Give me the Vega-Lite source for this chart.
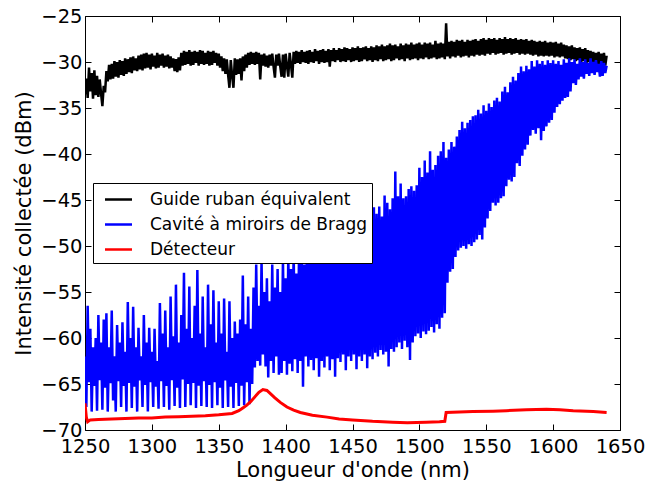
{
"$schema": "https://vega.github.io/schema/vega-lite/v6.json",
"width": 535, "height": 414,
"autosize": {"type": "none"},
"padding": {"left": 85, "top": 16, "right": 29, "bottom": 57},
"background": "white",
"datasets": {
"guide": [
{"x":1250,"y":-33.5},{"x":1251,"y":-31.8},{"x":1252,"y":-33.9},{"x":1253,"y":-30.6},{"x":1254,"y":-33.2},{"x":1255,"y":-31.2},{"x":1256,"y":-34.0},{"x":1257,"y":-30.9},{"x":1258,"y":-33.6},{"x":1259,"y":-31.5},
{"x":1260,"y":-33.8},{"x":1261,"y":-31.9},{"x":1262,"y":-33.4},{"x":1263,"y":-34.8},{"x":1264,"y":-32.6},{"x":1265,"y":-33.3},{"x":1266,"y":-31.0},{"x":1267,"y":-32.1},{"x":1268,"y":-30.3},{"x":1269,"y":-31.9},
{"x":1270,"y":-30.2},{"x":1271,"y":-31.8},{"x":1272,"y":-29.9},{"x":1273,"y":-31.6},{"x":1274,"y":-30.0},{"x":1275,"y":-31.7},{"x":1276,"y":-29.8},{"x":1277,"y":-31.4},{"x":1278,"y":-29.9},{"x":1279,"y":-31.5},
{"x":1280,"y":-29.6},{"x":1281,"y":-31.3},{"x":1282,"y":-29.7},{"x":1283,"y":-31.1},{"x":1284,"y":-29.5},{"x":1285,"y":-31.2},{"x":1286,"y":-29.4},{"x":1287,"y":-30.9},{"x":1288,"y":-29.6},{"x":1289,"y":-31.0},
{"x":1290,"y":-29.3},{"x":1291,"y":-30.8},{"x":1292,"y":-29.2},{"x":1293,"y":-30.9},{"x":1294,"y":-29.1},{"x":1295,"y":-30.7},{"x":1296,"y":-29.0},{"x":1297,"y":-30.6},{"x":1298,"y":-29.2},{"x":1299,"y":-30.8},
{"x":1300,"y":-29.1},{"x":1301,"y":-30.5},{"x":1302,"y":-29.3},{"x":1303,"y":-30.7},{"x":1304,"y":-29.0},{"x":1305,"y":-30.6},{"x":1306,"y":-29.2},{"x":1307,"y":-30.4},{"x":1308,"y":-29.1},{"x":1309,"y":-30.6},
{"x":1310,"y":-29.3},{"x":1311,"y":-30.5},{"x":1312,"y":-29.2},{"x":1313,"y":-30.7},{"x":1314,"y":-29.4},{"x":1315,"y":-30.6},{"x":1316,"y":-29.6},{"x":1317,"y":-31.0},{"x":1318,"y":-29.7},{"x":1319,"y":-31.1},
{"x":1320,"y":-29.5},{"x":1321,"y":-30.9},{"x":1322,"y":-29.0},{"x":1323,"y":-30.4},{"x":1324,"y":-28.8},{"x":1325,"y":-30.3},{"x":1326,"y":-28.9},{"x":1327,"y":-30.2},{"x":1328,"y":-28.7},{"x":1329,"y":-30.4},
{"x":1330,"y":-28.9},{"x":1331,"y":-30.3},{"x":1332,"y":-28.8},{"x":1333,"y":-30.1},{"x":1334,"y":-28.9},{"x":1335,"y":-30.4},{"x":1336,"y":-28.7},{"x":1337,"y":-30.2},{"x":1338,"y":-28.8},{"x":1339,"y":-30.3},
{"x":1340,"y":-29.0},{"x":1341,"y":-30.2},{"x":1342,"y":-28.8},{"x":1343,"y":-30.4},{"x":1344,"y":-28.9},{"x":1345,"y":-30.3},{"x":1346,"y":-28.8},{"x":1347,"y":-30.1},{"x":1348,"y":-29.0},{"x":1349,"y":-30.4},
{"x":1350,"y":-29.1},{"x":1351,"y":-30.6},{"x":1352,"y":-29.4},{"x":1353,"y":-31.0},{"x":1354,"y":-29.6},{"x":1355,"y":-31.3},{"x":1356,"y":-29.7},{"x":1357,"y":-31.4},{"x":1358,"y":-32.8},{"x":1359,"y":-29.8},
{"x":1360,"y":-31.5},{"x":1361,"y":-32.8},{"x":1362,"y":-29.6},{"x":1363,"y":-31.4},{"x":1364,"y":-29.7},{"x":1365,"y":-31.3},{"x":1366,"y":-29.6},{"x":1367,"y":-32.0},{"x":1368,"y":-29.4},{"x":1369,"y":-31.0},
{"x":1370,"y":-29.2},{"x":1371,"y":-30.6},{"x":1372,"y":-29.0},{"x":1373,"y":-30.3},{"x":1374,"y":-28.9},{"x":1375,"y":-30.2},{"x":1376,"y":-29.0},{"x":1377,"y":-30.3},{"x":1378,"y":-28.9},{"x":1379,"y":-30.2},
{"x":1380,"y":-29.0},{"x":1381,"y":-31.9},{"x":1382,"y":-29.2},{"x":1383,"y":-30.4},{"x":1384,"y":-29.1},{"x":1385,"y":-30.5},{"x":1386,"y":-29.3},{"x":1387,"y":-30.6},{"x":1388,"y":-29.2},{"x":1389,"y":-30.4},
{"x":1390,"y":-29.1},{"x":1391,"y":-30.5},{"x":1392,"y":-31.7},{"x":1393,"y":-29.2},{"x":1394,"y":-30.4},{"x":1395,"y":-29.1},{"x":1396,"y":-30.5},{"x":1397,"y":-31.6},{"x":1398,"y":-29.2},{"x":1399,"y":-31.7},
{"x":1400,"y":-29.1},{"x":1401,"y":-30.4},{"x":1402,"y":-31.6},{"x":1403,"y":-29.0},{"x":1404,"y":-30.3},{"x":1405,"y":-31.7},{"x":1406,"y":-28.9},{"x":1407,"y":-30.2},{"x":1408,"y":-28.8},{"x":1409,"y":-30.1},
{"x":1410,"y":-28.9},{"x":1411,"y":-30.2},{"x":1412,"y":-28.7},{"x":1413,"y":-30.0},{"x":1414,"y":-28.9},{"x":1415,"y":-30.1},{"x":1416,"y":-28.8},{"x":1417,"y":-30.2},{"x":1418,"y":-28.7},{"x":1419,"y":-30.0},
{"x":1420,"y":-28.9},{"x":1421,"y":-30.1},{"x":1422,"y":-28.6},{"x":1423,"y":-29.9},{"x":1424,"y":-28.8},{"x":1425,"y":-30.2},{"x":1426,"y":-28.7},{"x":1427,"y":-30.0},{"x":1428,"y":-28.6},{"x":1429,"y":-30.1},
{"x":1430,"y":-28.8},{"x":1431,"y":-30.0},{"x":1432,"y":-28.6},{"x":1433,"y":-30.5},{"x":1434,"y":-28.7},{"x":1435,"y":-29.9},{"x":1436,"y":-28.5},{"x":1437,"y":-30.0},{"x":1438,"y":-28.7},{"x":1439,"y":-29.8},
{"x":1440,"y":-28.5},{"x":1441,"y":-30.0},{"x":1442,"y":-28.6},{"x":1443,"y":-29.9},{"x":1444,"y":-28.4},{"x":1445,"y":-30.0},{"x":1446,"y":-28.5},{"x":1447,"y":-29.8},{"x":1448,"y":-28.6},{"x":1449,"y":-30.0},
{"x":1450,"y":-28.4},{"x":1451,"y":-29.9},{"x":1452,"y":-28.5},{"x":1453,"y":-29.8},{"x":1454,"y":-28.3},{"x":1455,"y":-30.0},{"x":1456,"y":-28.5},{"x":1457,"y":-29.9},{"x":1458,"y":-28.4},{"x":1459,"y":-29.7},
{"x":1460,"y":-28.3},{"x":1461,"y":-29.9},{"x":1462,"y":-28.5},{"x":1463,"y":-29.8},{"x":1464,"y":-28.3},{"x":1465,"y":-30.0},{"x":1466,"y":-28.4},{"x":1467,"y":-29.8},{"x":1468,"y":-28.2},{"x":1469,"y":-29.9},
{"x":1470,"y":-28.3},{"x":1471,"y":-29.7},{"x":1472,"y":-28.1},{"x":1473,"y":-29.9},{"x":1474,"y":-28.3},{"x":1475,"y":-29.8},{"x":1476,"y":-28.2},{"x":1477,"y":-29.7},{"x":1478,"y":-28.0},{"x":1479,"y":-29.9},
{"x":1480,"y":-28.2},{"x":1481,"y":-29.8},{"x":1482,"y":-28.1},{"x":1483,"y":-29.6},{"x":1484,"y":-28.3},{"x":1485,"y":-29.8},{"x":1486,"y":-28.0},{"x":1487,"y":-29.7},{"x":1488,"y":-28.2},{"x":1489,"y":-29.9},
{"x":1490,"y":-28.0},{"x":1491,"y":-29.6},{"x":1492,"y":-28.1},{"x":1493,"y":-29.8},{"x":1494,"y":-27.9},{"x":1495,"y":-29.7},{"x":1496,"y":-28.1},{"x":1497,"y":-29.6},{"x":1498,"y":-28.0},{"x":1499,"y":-29.8},
{"x":1500,"y":-27.9},{"x":1501,"y":-29.6},{"x":1502,"y":-28.1},{"x":1503,"y":-29.7},{"x":1504,"y":-27.9},{"x":1505,"y":-29.5},{"x":1506,"y":-28.0},{"x":1507,"y":-29.7},{"x":1508,"y":-27.9},{"x":1509,"y":-29.6},
{"x":1510,"y":-28.1},{"x":1511,"y":-29.5},{"x":1512,"y":-27.7},{"x":1513,"y":-29.7},{"x":1514,"y":-28.0},{"x":1515,"y":-29.6},{"x":1516,"y":-27.9},{"x":1517,"y":-29.5},{"x":1518,"y":-28.0},{"x":1519,"y":-29.7},
{"x":1520,"y":-25.8},{"x":1521,"y":-29.4},{"x":1522,"y":-27.8},{"x":1523,"y":-29.6},{"x":1524,"y":-27.7},{"x":1525,"y":-29.4},{"x":1526,"y":-27.8},{"x":1527,"y":-29.5},{"x":1528,"y":-27.6},{"x":1529,"y":-29.3},
{"x":1530,"y":-27.7},{"x":1531,"y":-29.5},{"x":1532,"y":-27.6},{"x":1533,"y":-29.4},{"x":1534,"y":-27.8},{"x":1535,"y":-29.3},{"x":1536,"y":-27.6},{"x":1537,"y":-29.5},{"x":1538,"y":-27.7},{"x":1539,"y":-29.3},
{"x":1540,"y":-27.6},{"x":1541,"y":-29.4},{"x":1542,"y":-27.5},{"x":1543,"y":-29.2},{"x":1544,"y":-27.7},{"x":1545,"y":-29.3},{"x":1546,"y":-27.5},{"x":1547,"y":-29.2},{"x":1548,"y":-27.4},{"x":1549,"y":-29.3},
{"x":1550,"y":-27.6},{"x":1551,"y":-29.1},{"x":1552,"y":-27.4},{"x":1553,"y":-29.2},{"x":1554,"y":-27.5},{"x":1555,"y":-29.0},{"x":1556,"y":-27.4},{"x":1557,"y":-29.2},{"x":1558,"y":-27.6},{"x":1559,"y":-29.1},
{"x":1560,"y":-27.4},{"x":1561,"y":-29.0},{"x":1562,"y":-27.5},{"x":1563,"y":-29.2},{"x":1564,"y":-27.3},{"x":1565,"y":-29.1},{"x":1566,"y":-27.5},{"x":1567,"y":-29.0},{"x":1568,"y":-27.4},{"x":1569,"y":-29.2},
{"x":1570,"y":-27.5},{"x":1571,"y":-29.1},{"x":1572,"y":-27.4},{"x":1573,"y":-29.0},{"x":1574,"y":-27.6},{"x":1575,"y":-29.2},{"x":1576,"y":-27.5},{"x":1577,"y":-29.1},{"x":1578,"y":-27.6},{"x":1579,"y":-29.2},
{"x":1580,"y":-27.5},{"x":1581,"y":-29.1},{"x":1582,"y":-27.7},{"x":1583,"y":-29.2},{"x":1584,"y":-27.6},{"x":1585,"y":-29.3},{"x":1586,"y":-27.7},{"x":1587,"y":-29.2},{"x":1588,"y":-27.8},{"x":1589,"y":-29.4},
{"x":1590,"y":-27.7},{"x":1591,"y":-29.3},{"x":1592,"y":-27.8},{"x":1593,"y":-29.4},{"x":1594,"y":-27.7},{"x":1595,"y":-29.3},{"x":1596,"y":-27.9},{"x":1597,"y":-29.4},{"x":1598,"y":-27.8},{"x":1599,"y":-29.3},
{"x":1600,"y":-27.9},{"x":1601,"y":-29.5},{"x":1602,"y":-27.8},{"x":1603,"y":-29.4},{"x":1604,"y":-28.0},{"x":1605,"y":-29.5},{"x":1606,"y":-27.9},{"x":1607,"y":-29.4},{"x":1608,"y":-28.1},{"x":1609,"y":-29.6},
{"x":1610,"y":-28.2},{"x":1611,"y":-29.7},{"x":1612,"y":-28.3},{"x":1613,"y":-29.8},{"x":1614,"y":-28.2},{"x":1615,"y":-29.7},{"x":1616,"y":-28.4},{"x":1617,"y":-29.9},{"x":1618,"y":-28.5},{"x":1619,"y":-29.8},
{"x":1620,"y":-28.4},{"x":1621,"y":-30.0},{"x":1622,"y":-28.6},{"x":1623,"y":-29.9},{"x":1624,"y":-28.5},{"x":1625,"y":-30.1},{"x":1626,"y":-28.7},{"x":1627,"y":-30.0},{"x":1628,"y":-28.8},{"x":1629,"y":-30.2},
{"x":1630,"y":-28.9},{"x":1631,"y":-30.1},{"x":1632,"y":-29.0},{"x":1633,"y":-30.3},{"x":1634,"y":-28.9},{"x":1635,"y":-30.2},{"x":1636,"y":-29.1},{"x":1637,"y":-30.3},{"x":1638,"y":-29.0},{"x":1639,"y":-30.4},
{"x":1640,"y":-29.3}
],
"cavite": [
{"x":1250,"y":-62},{"x":1251,"y":-67.5},{"x":1252,"y":-56.5},{"x":1253,"y":-64.8},{"x":1254,"y":-59},{"x":1255,"y":-68},{"x":1256,"y":-61},{"x":1257,"y":-65.2},{"x":1258,"y":-60},{"x":1259,"y":-67.9},
{"x":1260,"y":-57.5},{"x":1261,"y":-64.6},{"x":1262,"y":-60.5},{"x":1263,"y":-67.8},{"x":1264,"y":-58},{"x":1265,"y":-65.4},{"x":1266,"y":-57.3},{"x":1267,"y":-68},{"x":1268,"y":-61},{"x":1269,"y":-64.9},
{"x":1270,"y":-57},{"x":1271,"y":-66.8},{"x":1272,"y":-62},{"x":1273,"y":-68},{"x":1274,"y":-58.6},{"x":1275,"y":-64.7},{"x":1276,"y":-60.5},{"x":1277,"y":-67.5},{"x":1278,"y":-58.3},{"x":1279,"y":-65.2},
{"x":1280,"y":-61.5},{"x":1281,"y":-68},{"x":1282,"y":-56.1},{"x":1283,"y":-64.9},{"x":1284,"y":-60},{"x":1285,"y":-67.6},{"x":1286,"y":-56.6},{"x":1287,"y":-65.3},{"x":1288,"y":-61},{"x":1289,"y":-68},
{"x":1290,"y":-58.9},{"x":1291,"y":-64.6},{"x":1292,"y":-62},{"x":1293,"y":-67.5},{"x":1294,"y":-57.5},{"x":1295,"y":-65.1},{"x":1296,"y":-60.5},{"x":1297,"y":-68},{"x":1298,"y":-58.9},{"x":1299,"y":-64.8},
{"x":1300,"y":-61.5},{"x":1301,"y":-67.5},{"x":1302,"y":-59},{"x":1303,"y":-65.3},{"x":1304,"y":-62.5},{"x":1305,"y":-67.7},{"x":1306,"y":-56.2},{"x":1307,"y":-64.7},{"x":1308,"y":-59.5},{"x":1309,"y":-67.5},
{"x":1310,"y":-57},{"x":1311,"y":-65.2},{"x":1312,"y":-61},{"x":1313,"y":-67.8},{"x":1314,"y":-55.5},{"x":1315,"y":-64.6},{"x":1316,"y":-59.8},{"x":1317,"y":-67.4},{"x":1318,"y":-54.2},{"x":1319,"y":-65.4},
{"x":1320,"y":-60.5},{"x":1321,"y":-67.6},{"x":1322,"y":-57.5},{"x":1323,"y":-64.5},{"x":1324,"y":-52.9},{"x":1325,"y":-67.5},{"x":1326,"y":-59},{"x":1327,"y":-65},{"x":1328,"y":-54.4},{"x":1329,"y":-67.3},
{"x":1330,"y":-60},{"x":1331,"y":-64.9},{"x":1332,"y":-56.5},{"x":1333,"y":-67.6},{"x":1334,"y":-52.6},{"x":1335,"y":-65.2},{"x":1336,"y":-59.5},{"x":1337,"y":-67.4},{"x":1338,"y":-55.5},{"x":1339,"y":-64.7},
{"x":1340,"y":-61},{"x":1341,"y":-67.5},{"x":1342,"y":-54.2},{"x":1343,"y":-65.1},{"x":1344,"y":-58.5},{"x":1345,"y":-67.6},{"x":1346,"y":-54.8},{"x":1347,"y":-64.8},{"x":1348,"y":-60.5},{"x":1349,"y":-67.3},
{"x":1350,"y":-56},{"x":1351,"y":-65.4},{"x":1352,"y":-59.5},{"x":1353,"y":-67.6},{"x":1354,"y":-55.7},{"x":1355,"y":-64.6},{"x":1356,"y":-61.5},{"x":1357,"y":-67.5},{"x":1358,"y":-56},{"x":1359,"y":-65.3},
{"x":1360,"y":-60},{"x":1361,"y":-67.6},{"x":1362,"y":-58.2},{"x":1363,"y":-64.9},{"x":1364,"y":-59.5},{"x":1365,"y":-67.4},{"x":1366,"y":-58},{"x":1367,"y":-65.2},{"x":1368,"y":-53.2},{"x":1369,"y":-67.3},
{"x":1370,"y":-58.5},{"x":1371,"y":-64.8},{"x":1372,"y":-55.5},{"x":1373,"y":-67.2},{"x":1374,"y":-59},{"x":1375,"y":-65},{"x":1376,"y":-54.5},{"x":1377,"y":-63.2},{"x":1378,"y":-52},{"x":1379,"y":-62.5},
{"x":1380,"y":-56.5},{"x":1381,"y":-63},{"x":1382,"y":-51.6},{"x":1383,"y":-61.8},{"x":1384,"y":-55},{"x":1385,"y":-63.1},{"x":1386,"y":-53.5},{"x":1387,"y":-64.3},{"x":1388,"y":-56},{"x":1389,"y":-62.5},
{"x":1390,"y":-52},{"x":1391,"y":-63.8},{"x":1392,"y":-54.5},{"x":1393,"y":-62},{"x":1394,"y":-52.5},{"x":1395,"y":-64},{"x":1396,"y":-55},{"x":1397,"y":-63.8},{"x":1398,"y":-51.5},{"x":1399,"y":-62.5},
{"x":1400,"y":-53.5},{"x":1401,"y":-64},{"x":1402,"y":-51},{"x":1403,"y":-62.8},{"x":1404,"y":-52.5},{"x":1405,"y":-63.6},{"x":1406,"y":-50.5},{"x":1407,"y":-62.3},{"x":1408,"y":-53},{"x":1409,"y":-63.8},
{"x":1410,"y":-51},{"x":1411,"y":-62.5},{"x":1412,"y":-50.5},{"x":1413,"y":-65.3},{"x":1414,"y":-52},{"x":1415,"y":-62},{"x":1416,"y":-50},{"x":1417,"y":-63.1},{"x":1418,"y":-51.5},{"x":1419,"y":-62.4},
{"x":1420,"y":-49.8},{"x":1421,"y":-63.5},{"x":1422,"y":-51},{"x":1423,"y":-62.2},{"x":1424,"y":-49.5},{"x":1425,"y":-64.2},{"x":1426,"y":-50.8},{"x":1427,"y":-62.5},{"x":1428,"y":-49},{"x":1429,"y":-63.2},
{"x":1430,"y":-50.5},{"x":1431,"y":-62},{"x":1432,"y":-48.8},{"x":1433,"y":-63.5},{"x":1434,"y":-50},{"x":1435,"y":-62.3},{"x":1436,"y":-48.5},{"x":1437,"y":-64.2},{"x":1438,"y":-49.5},{"x":1439,"y":-62.2},
{"x":1440,"y":-48},{"x":1441,"y":-62.6},{"x":1442,"y":-49.6},{"x":1443,"y":-61.8},{"x":1444,"y":-47.5},{"x":1445,"y":-63.5},{"x":1446,"y":-48.8},{"x":1447,"y":-62},{"x":1448,"y":-47.2},{"x":1449,"y":-62.5},
{"x":1450,"y":-48.5},{"x":1451,"y":-61.8},{"x":1452,"y":-46.8},{"x":1453,"y":-63.4},{"x":1454,"y":-48},{"x":1455,"y":-62},{"x":1456,"y":-46.5},{"x":1457,"y":-62.5},{"x":1458,"y":-47.8},{"x":1459,"y":-61.8},
{"x":1460,"y":-46.2},{"x":1461,"y":-63.3},{"x":1462,"y":-47.5},{"x":1463,"y":-62},{"x":1464,"y":-46},{"x":1465,"y":-62.3},{"x":1466,"y":-45.8},{"x":1467,"y":-61.6},{"x":1468,"y":-46.5},{"x":1469,"y":-62},
{"x":1470,"y":-45.7},{"x":1471,"y":-61.3},{"x":1472,"y":-46.8},{"x":1473,"y":-61.8},{"x":1474,"y":-44.5},{"x":1475,"y":-61.5},{"x":1476,"y":-45.3},{"x":1477,"y":-63.1},{"x":1478,"y":-46},{"x":1479,"y":-61.2},
{"x":1480,"y":-44.8},{"x":1481,"y":-61.5},{"x":1482,"y":-41.9},{"x":1483,"y":-61},{"x":1484,"y":-44.6},{"x":1485,"y":-60.5},{"x":1486,"y":-43.2},{"x":1487,"y":-61.2},{"x":1488,"y":-44.8},{"x":1489,"y":-60.3},
{"x":1490,"y":-44.6},{"x":1491,"y":-61},{"x":1492,"y":-43.8},{"x":1493,"y":-62.4},{"x":1494,"y":-43.5},{"x":1495,"y":-60.5},{"x":1496,"y":-44},{"x":1497,"y":-59.8},{"x":1498,"y":-43.4},{"x":1499,"y":-59.5},
{"x":1500,"y":-41.5},{"x":1501,"y":-60},{"x":1502,"y":-42.5},{"x":1503,"y":-59.3},{"x":1504,"y":-40.7},{"x":1505,"y":-59.6},{"x":1506,"y":-42},{"x":1507,"y":-59.2},{"x":1508,"y":-39.7},{"x":1509,"y":-58.8},
{"x":1510,"y":-41.7},{"x":1511,"y":-59.4},{"x":1512,"y":-41.2},{"x":1513,"y":-58.5},{"x":1514,"y":-40.2},{"x":1515,"y":-59},{"x":1516,"y":-39.7},{"x":1517,"y":-57.8},{"x":1518,"y":-38.7},{"x":1519,"y":-57.3},
{"x":1520,"y":-40.4},{"x":1521,"y":-54},{"x":1522,"y":-39.5},{"x":1523,"y":-52.8},{"x":1524,"y":-38.7},{"x":1525,"y":-52.5},{"x":1526,"y":-39.2},{"x":1527,"y":-51.2},{"x":1528,"y":-38.1},{"x":1529,"y":-50.5},
{"x":1530,"y":-37.4},{"x":1531,"y":-50.2},{"x":1532,"y":-36.5},{"x":1533,"y":-50},{"x":1534,"y":-37.2},{"x":1535,"y":-50.3},{"x":1536,"y":-36.6},{"x":1537,"y":-49.8},{"x":1538,"y":-36.3},{"x":1539,"y":-50},
{"x":1540,"y":-35.9},{"x":1541,"y":-49.6},{"x":1542,"y":-35.8},{"x":1543,"y":-49.3},{"x":1544,"y":-35.2},{"x":1545,"y":-48.8},{"x":1546,"y":-35.6},{"x":1547,"y":-49.3},{"x":1548,"y":-34.7},{"x":1549,"y":-48},
{"x":1550,"y":-35.3},{"x":1551,"y":-47},{"x":1552,"y":-34.5},{"x":1553,"y":-46.2},{"x":1554,"y":-34.9},{"x":1555,"y":-45.3},{"x":1556,"y":-34.2},{"x":1557,"y":-45.6},{"x":1558,"y":-33.9},{"x":1559,"y":-45.3},
{"x":1560,"y":-34.3},{"x":1561,"y":-44.8},{"x":1562,"y":-33.2},{"x":1563,"y":-44.6},{"x":1564,"y":-32.7},{"x":1565,"y":-43.5},{"x":1566,"y":-33.3},{"x":1567,"y":-42.8},{"x":1568,"y":-32.2},{"x":1569,"y":-43},
{"x":1570,"y":-31.6},{"x":1571,"y":-42.5},{"x":1572,"y":-32},{"x":1573,"y":-41},{"x":1574,"y":-31.2},{"x":1575,"y":-41.3},{"x":1576,"y":-30.5},{"x":1577,"y":-40.2},{"x":1578,"y":-31},{"x":1579,"y":-39.5},
{"x":1580,"y":-30.4},{"x":1581,"y":-39},{"x":1582,"y":-30.8},{"x":1583,"y":-38},{"x":1584,"y":-29.9},{"x":1585,"y":-37.4},{"x":1586,"y":-30.5},{"x":1587,"y":-37.8},{"x":1588,"y":-29.8},{"x":1589,"y":-37.2},
{"x":1590,"y":-30.2},{"x":1591,"y":-38.5},{"x":1592,"y":-29.9},{"x":1593,"y":-37.5},{"x":1594,"y":-30.3},{"x":1595,"y":-37},{"x":1596,"y":-29.8},{"x":1597,"y":-36.6},{"x":1598,"y":-30.1},{"x":1599,"y":-36.3},
{"x":1600,"y":-29.8},{"x":1601,"y":-35.5},{"x":1602,"y":-30.2},{"x":1603,"y":-34.9},{"x":1604,"y":-29.9},{"x":1605,"y":-34.6},{"x":1606,"y":-30.3},{"x":1607,"y":-34.2},{"x":1608,"y":-29.7},{"x":1609,"y":-33.9},
{"x":1610,"y":-30.1},{"x":1611,"y":-33.8},{"x":1612,"y":-29.6},{"x":1613,"y":-33.2},{"x":1614,"y":-30},{"x":1615,"y":-32.3},{"x":1616,"y":-29.7},{"x":1617,"y":-32.5},{"x":1618,"y":-30.2},{"x":1619,"y":-31.9},
{"x":1620,"y":-29.6},{"x":1621,"y":-31.6},{"x":1622,"y":-30},{"x":1623,"y":-31.8},{"x":1624,"y":-29.7},{"x":1625,"y":-31.3},{"x":1626,"y":-30.1},{"x":1627,"y":-31.5},{"x":1628,"y":-29.6},{"x":1629,"y":-31.2},
{"x":1630,"y":-30},{"x":1631,"y":-31.4},{"x":1632,"y":-29.8},{"x":1633,"y":-31.1},{"x":1634,"y":-30.2},{"x":1635,"y":-31.6},{"x":1636,"y":-29.9},{"x":1637,"y":-31.5},{"x":1638,"y":-30.1},{"x":1639,"y":-31.2},
{"x":1640,"y":-30.4}
],
"detecteur": [
{"x":1250,"y":-67.1},{"x":1251,"y":-68.6},{"x":1252,"y":-69.1},{"x":1254,"y":-68.9},{"x":1260,"y":-68.85},{"x":1270,"y":-68.8},{"x":1280,"y":-68.75},{"x":1290,"y":-68.7},{"x":1300,"y":-68.7},{"x":1310,"y":-68.6},
{"x":1320,"y":-68.55},{"x":1330,"y":-68.5},{"x":1340,"y":-68.45},{"x":1350,"y":-68.35},{"x":1360,"y":-68.2},{"x":1365,"y":-67.9},{"x":1368,"y":-67.6},{"x":1371,"y":-67.3},{"x":1374,"y":-66.9},{"x":1377,"y":-66.4},
{"x":1380,"y":-65.9},{"x":1383,"y":-65.6},{"x":1386,"y":-65.7},{"x":1389,"y":-66.1},{"x":1392,"y":-66.5},{"x":1396,"y":-67.0},{"x":1401,"y":-67.5},{"x":1406,"y":-67.85},{"x":1411,"y":-68.1},{"x":1420,"y":-68.4},
{"x":1431,"y":-68.6},{"x":1440,"y":-68.8},{"x":1450,"y":-68.9},{"x":1465,"y":-69.05},{"x":1480,"y":-69.15},{"x":1491,"y":-69.2},{"x":1505,"y":-69.15},{"x":1515,"y":-69.1},{"x":1519,"y":-69.05},{"x":1520,"y":-68.1},
{"x":1530,"y":-68.05},{"x":1540,"y":-68.0},{"x":1555,"y":-67.95},{"x":1565,"y":-67.9},{"x":1580,"y":-67.8},{"x":1595,"y":-67.75},{"x":1605,"y":-67.8},{"x":1615,"y":-67.9},{"x":1630,"y":-68.0},{"x":1640,"y":-68.1}
]
},
"layer": [
{"data": {"name": "guide"},
 "mark": {"type": "line", "strokeWidth": 2.5, "clip": true},
 "encoding": {
  "x": {"field": "x", "type": "quantitative", "scale": {"domain": [1250, 1650], "nice": false, "zero": false},
        "axis": {"orient": "bottom", "values": [1250,1300,1350,1400,1450,1500,1550,1600,1650], "format": "d", "title": "Longueur d'onde (nm)", "tickSize": -6, "labelPadding": 13, "titlePadding": 4, "labelFlush": false, "labelOverlap": false}},
  "y": {"field": "y", "type": "quantitative", "scale": {"domain": [-70, -25], "nice": false, "zero": false},
        "axis": {"orient": "left", "values": [-70,-65,-60,-55,-50,-45,-40,-35,-30,-25], "title": "Intensité collectée (dBm)", "tickSize": -6, "labelPadding": 9, "titlePadding": 6, "labelFlush": false, "labelOverlap": false}},
  "color": {"datum": "Guide ruban équivalent", "type": "nominal",
            "scale": {"domain": ["Guide ruban équivalent", "Cavité à miroirs de Bragg", "Détecteur"], "range": ["#000000", "#0000ff", "#ff0000"]},
            "legend": {"orient": "none", "legendX": 8, "legendY": 167, "title": null,
                       "symbolType": "M-1.35,0H1.35", "symbolSize": 400, "symbolStrokeWidth": 2.5, "symbolOffset": 9,
                       "labelOffset": 20, "labelFont": "DejaVu Sans", "labelFontSize": 17, "labelColor": "black", "labelLimit": 400,
                       "padding": 5, "rowPadding": 5, "strokeColor": "black", "fillColor": "white", "cornerRadius": 0}}
 }},
{"data": {"name": "cavite"},
 "mark": {"type": "line", "strokeWidth": 2.5, "clip": true},
 "encoding": {
  "x": {"field": "x", "type": "quantitative", "axis": {"orient": "top", "values": [1250,1300,1350,1400,1450,1500,1550,1600,1650], "labels": false, "title": null, "tickSize": -6}},
  "y": {"field": "y", "type": "quantitative", "axis": {"orient": "right", "values": [-70,-65,-60,-55,-50,-45,-40,-35,-30,-25], "labels": false, "title": null, "tickSize": -6}},
  "color": {"datum": "Cavité à miroirs de Bragg", "type": "nominal"}
 }},
{"data": {"name": "detecteur"},
 "mark": {"type": "line", "strokeWidth": 3, "clip": true},
 "encoding": {
  "x": {"field": "x", "type": "quantitative", "axis": null},
  "y": {"field": "y", "type": "quantitative", "axis": null},
  "color": {"datum": "Détecteur", "type": "nominal"}
 }}
],
"resolve": {"axis": {"x": "independent", "y": "independent"}},
"config": {
 "view": {"stroke": "black", "strokeWidth": 1},
 "axis": {"grid": false, "domain": false, "tickColor": "black", "tickWidth": 1,
          "labelFont": "DejaVu Sans", "labelFontSize": 19.5, "labelColor": "black",
          "titleFont": "DejaVu Sans", "titleFontSize": 21, "titleFontWeight": "normal", "titleColor": "black"}
}
}
